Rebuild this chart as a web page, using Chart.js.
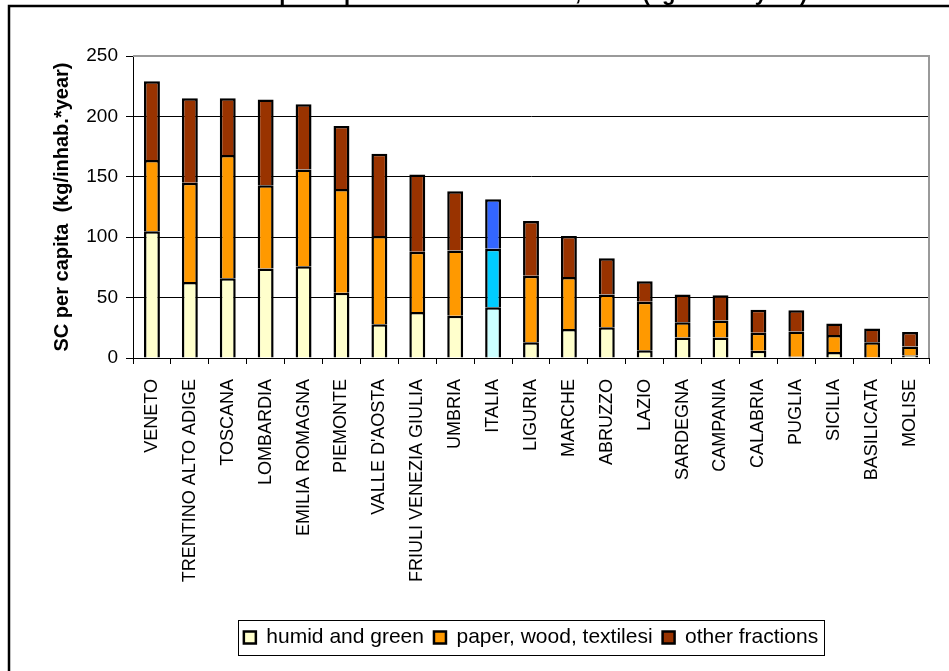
<!DOCTYPE html>
<html lang="en">
<head>
  <meta charset="UTF-8">
  <title>SC per capita</title>
  <script src="https://cdn.jsdelivr.net/npm/chart.js"></script>
  <style>
    html, body { margin: 0; padding: 0; background: #fff; overflow: hidden; }
    .chart { position: absolute; left: 0; top: 0; width: 949px; height: 671px; }
  </style>
</head>
<body>
<div class="chart">
  <canvas id="myCanvas" width="949" height="671"></canvas>
</div>
<script>
  const regions = ["VENETO", "TRENTINO ALTO ADIGE", "TOSCANA", "LOMBARDIA", "EMILIA ROMAGNA", "PIEMONTE",
    "VALLE D'AOSTA", "FRIULI VENEZIA GIULIA", "UMBRIA", "ITALIA", "LIGURIA", "MARCHE", "ABRUZZO", "LAZIO",
    "SARDEGNA", "CAMPANIA", "CALABRIA", "PUGLIA", "SICILIA", "BASILICATA", "MOLISE"];
  const humid = [105, 63, 66, 74, 76, 54, 28, 38, 35, 42, 13, 24, 25.5, 6.5, 17, 17, 6, 1, 5, 0.5, 2];
  const paper = [59, 82, 102, 69, 80, 86, 73, 50, 54, 48.5, 55, 43, 27, 40, 12.5, 14, 15, 21, 14, 12.5, 7.5];
  const other = [65, 70, 47, 71, 54, 52, 68, 64, 49, 41, 45.5, 34, 30, 17, 23, 21, 19, 17.5, 9.5, 11.5, 12];
  const yTicks = [0, 50, 100, 150, 200, 250];

  const chartTitle = "SC per capita for main fractions, 1999 (kg/inhab.*year)";
  const italyIdx = regions.indexOf("ITALIA");

  // italia gets the blue shades, every region the normal ones
  function colorFor(normal, italy) {
    return function (ctx) {
      if (ctx.type === "data" && ctx.dataIndex === italyIdx) return italy;
      return normal;
    };
  }

  const frame = {
    id: "frame",
    afterLayout(chart) {
      // center the legend under the plot area, not the whole canvas
      const a = chart.chartArea, lg = chart.legend;
      lg.left = a.left;
      lg.right = a.right;
      lg.width = a.right - a.left;
    },
    beforeDraw(chart) {
      const c = chart.ctx;
      c.save();
      c.fillStyle = "#fff";
      c.fillRect(0, 0, chart.width, chart.height);
      // outer border (runs off the right and bottom edges)
      c.strokeStyle = "#000";
      c.lineWidth = 2.5;
      c.strokeRect(9, 6, 1000, 800);
      // title, mostly cut off at the top
      c.fillStyle = "#000";
      c.font = "bold 22px Arial, 'Liberation Sans'";
      c.textAlign = "center";
      c.textBaseline = "alphabetic";
      c.fillText(chartTitle, 525, -0.5);
      c.restore();
    },
    beforeDatasetsDraw(chart) {
      const a = chart.chartArea;
      const c = chart.ctx;
      c.save();
      c.strokeStyle = "#9a9a9a";
      c.lineWidth = 2;
      c.beginPath();
      c.moveTo(a.left, a.top);
      c.lineTo(a.right, a.top);
      c.lineTo(a.right, a.bottom);
      c.stroke();
      c.restore();
    },
    afterDraw(chart) {
      const boxes = chart.legend.legendHitBoxes;
      if (!boxes || !boxes.length) return;
      const first = boxes[0], last = boxes[boxes.length - 1];
      const c = chart.ctx;
      c.save();
      c.strokeStyle = "#000";
      c.lineWidth = 1;
      c.strokeRect(Math.round(first.left - 6) + 0.5, Math.round(first.top - 7) + 0.5,
        Math.round(last.left + last.width - first.left + 12), Math.round(first.height + 14));
      c.restore();
    }
  };

  Chart.defaults.font.family = "Arial, 'Liberation Sans'";
  Chart.defaults.color = "#000";

  new Chart(document.getElementById("myCanvas"), {
    type: "bar",
    data: {
      labels: regions,
      datasets: [
        { label: "humid and green", data: humid,
          backgroundColor: colorFor("#FFFFCC", "#CCFFFF") },
        { label: "paper, wood, textilesi", data: paper,
          backgroundColor: colorFor("#FF9900", "#00CCFF") },
        { label: "other fractions", data: other,
          backgroundColor: colorFor("#993300", "#3366FF") }
      ]
    },
    options: {
      responsive: false,
      animation: false,
      layout: { padding: { left: 40, right: 20, top: 56, bottom: 13 } },
      datasets: {
        bar: {
          borderColor: "#000",
          borderWidth: 2.5,
          categoryPercentage: 1,
          barPercentage: 0.42
        }
      },
      plugins: {
        title: { display: false },
        tooltip: { enabled: false },
        legend: {
          position: "bottom",
          labels: {
            boxWidth: 12,
            boxHeight: 12,
            padding: 10,
            font: { size: 21 },
            color: "#000"
          }
        }
      },
      scales: {
        x: {
          stacked: true,
          grid: { drawOnChartArea: false, drawTicks: true, tickLength: 6, color: "#000" },
          border: { color: "#000", width: 1 },
          ticks: { minRotation: 90, maxRotation: 90, autoSkip: false, padding: 15, font: { size: 18 } },
          afterFit(scale) { scale.height = 259; }
        },
        y: {
          stacked: true,
          min: 0,
          max: 250,
          afterBuildTicks(scale) { scale.ticks = yTicks.map(v => ({ value: v })); },
          grid: {
            color: ctx => (ctx.tick && ctx.tick.value === 250 ? "rgba(0,0,0,0)" : "#000"),
            tickColor: "#000",
            tickLength: 7
          },
          border: { color: "#000", width: 1 },
          ticks: { padding: 8, font: { size: 19 } },
          title: {
            display: true,
            text: "SC per capita  (kg/inhab.*year)",
            font: { size: 20, weight: "bold" },
            padding: { top: 10, bottom: 0 }
          },
          afterFit(scale) { scale.width = 93; }
        }
      }
    },
    plugins: [frame]
  });
</script>
</body>
</html>
